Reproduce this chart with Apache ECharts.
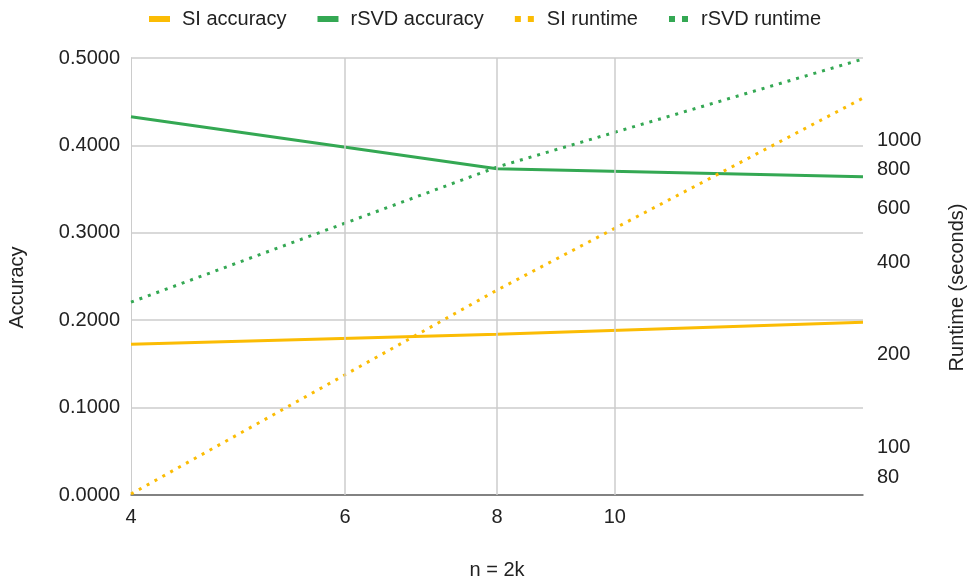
<!DOCTYPE html>
<html>
<head>
<meta charset="utf-8">
<script src="https://cdn.jsdelivr.net/npm/echarts@6/dist/echarts.min.js"></script>
<style>
  html, body { margin: 0; padding: 0; background: #fff; }
  #chart { width: 972px; height: 580px; }
</style>
</head>
<body>
<div id="chart"></div>
<script>
  // n = 2k
  var nValues = [4, 8, 16];
  var siAccuracy = [0.1724, 0.1840, 0.1976];
  var rsvdAccuracy = [0.4328, 0.3733, 0.3642];
  var siRuntime = [70.5, 325, 1370];
  var rsvdRuntime = [297, 817, 1836];

  var xTicks = [4, 6, 8, 10];
  var xGridLines = [6, 8, 10];
  var runtimeTicks = [80, 100, 200, 400, 600, 800, 1000];

  var YELLOW = '#fbbc04';
  var GREEN = '#34a853';
  var FONT = 'Liberation Sans, Arial, sans-serif';
  var SOLID_ICON = 'path://M0,0h21v6h-21z';
  var DOT_ICON = 'path://M0,0h6v6h-6z M13,0h6v6h-6z';

  function pairs(xs, ys) {
    return xs.map(function (x, i) { return [x, ys[i]]; });
  }

  var myChart = echarts.init(document.getElementById('chart'));
  var option = {
    animation: false,
    textStyle: { fontFamily: FONT },
    legend: {
      top: 4,
      left: 144,
      itemWidth: 21,
      itemHeight: 6,
      itemGap: 31,
      textStyle: { fontSize: 20, color: '#222', padding: [0, 0, 0, 7] },
      data: [
        { name: 'SI accuracy', icon: SOLID_ICON },
        { name: 'rSVD accuracy', icon: SOLID_ICON },
        { name: 'SI runtime', icon: DOT_ICON },
        { name: 'rSVD runtime', icon: DOT_ICON }
      ]
    },
    grid: { left: 131, right: 109, top: 58, bottom: 85, outerBoundsMode: 'none' },
    xAxis: {
      type: 'log',
      logBase: 2,
      min: 4,
      max: 16,
      name: 'n = 2k',
      nameLocation: 'middle',
      nameGap: 65,
      nameTextStyle: { fontSize: 20, color: '#222' },
      axisLine: { show: true, lineStyle: { color: '#666', width: 1.5 } },
      axisTick: { show: false },
      splitLine: { show: false },
      axisLabel: { customValues: xTicks, fontSize: 20, color: '#222', margin: 12 }
    },
    yAxis: [
      {
        type: 'value',
        min: 0,
        max: 0.5,
        interval: 0.1,
        name: 'Accuracy',
        nameLocation: 'middle',
        nameRotate: 90,
        nameGap: 104,
        nameTextStyle: { fontSize: 20, color: '#222', padding: [0, 22, 0, 0] },
        axisLine: { show: true, lineStyle: { color: '#ccc', width: 1 } },
        axisTick: { show: false },
        axisLabel: {
          fontSize: 20, color: '#222', margin: 11,
          formatter: function (v) { return v.toFixed(4); }
        },
        splitLine: { lineStyle: { color: '#ccc', width: 1.5 } }
      },
      {
        type: 'log',
        logBase: 10,
        min: 70,
        max: 1850,
        name: 'Runtime (seconds)',
        nameLocation: 'middle',
        nameRotate: 90,
        nameGap: 84,
        nameTextStyle: { fontSize: 20, color: '#222', padding: [0, 22, 0, 0] },
        axisLine: { show: false },
        axisTick: { show: false },
        splitLine: { show: false },
        axisLabel: {
          customValues: runtimeTicks,
          fontSize: 20, color: '#222', margin: 14,
          hideOverlap: false,
          formatter: function (v) { return String(v); }
        }
      }
    ],
    series: [
      {
        name: 'SI accuracy',
        type: 'line',
        yAxisIndex: 0,
        symbol: 'none',
        color: YELLOW,
        lineStyle: { width: 3, color: YELLOW },
        data: pairs(nValues, siAccuracy),
        markLine: {
          silent: true,
          symbol: 'none',
          label: { show: false },
          lineStyle: { color: '#ccc', width: 1.5, type: 'solid' },
          data: xGridLines.map(function (v) { return { xAxis: v }; })
        },
        z: 3
      },
      {
        name: 'rSVD accuracy',
        type: 'line',
        yAxisIndex: 0,
        symbol: 'none',
        color: GREEN,
        lineStyle: { width: 3, color: GREEN },
        data: pairs(nValues, rsvdAccuracy),
        z: 3
      },
      {
        name: 'SI runtime',
        type: 'line',
        yAxisIndex: 1,
        symbol: 'none',
        color: YELLOW,
        lineStyle: { width: 3, color: YELLOW, type: [3, 6] },
        data: pairs(nValues, siRuntime),
        z: 3
      },
      {
        name: 'rSVD runtime',
        type: 'line',
        yAxisIndex: 1,
        symbol: 'none',
        color: GREEN,
        lineStyle: { width: 3, color: GREEN, type: [3, 6] },
        data: pairs(nValues, rsvdRuntime),
        z: 3
      }
    ]
  };
  myChart.setOption(option);
</script>
</body>
</html>
